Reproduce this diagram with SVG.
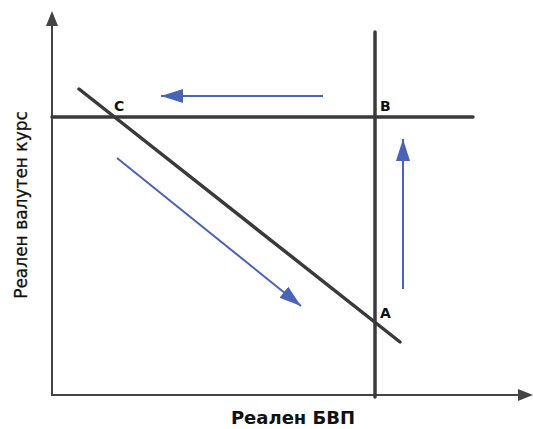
<svg xmlns="http://www.w3.org/2000/svg" width="533" height="429" viewBox="0 0 533 429">
<style>
.axis{stroke:#444;stroke-width:2;fill:none}
.curve{stroke:#3a3a3a;stroke-width:3.5;fill:none;stroke-linecap:round}
.move{stroke:#4a62b8;stroke-width:2;fill:none}
.pt{font-family:"DejaVu Sans",Verdana,sans-serif;font-weight:bold;font-size:14px;fill:#111}
.lbl{font-family:"DejaVu Sans",Verdana,sans-serif;fill:#111}
</style>
<defs>
<marker id="blue" markerWidth="24" markerHeight="16" refX="22" refY="8" orient="auto" markerUnits="userSpaceOnUse"><path d="M0,1 L22,8 L0,15 Z" fill="#4a62b8"/></marker>
</defs>
<g id="connectors">
<line class="axis" x1="52" y1="396" x2="52" y2="24"/>
<polygon points="52,11 46,26 58,26" fill="#444"/>
<line class="axis" x1="51" y1="395" x2="520" y2="395"/>
<polygon points="533,395 518,389 518,401" fill="#444"/>
<line class="move" x1="323" y1="96" x2="161" y2="96" marker-end="url(#blue)"/>
<line class="move" x1="403" y1="289" x2="403" y2="139" marker-end="url(#blue)"/>
<line class="move" x1="117" y1="158" x2="301" y2="306" marker-end="url(#blue)"/>
</g>
<g id="lr-curve"><line class="curve" x1="52" y1="117" x2="473" y2="117"/></g>
<g id="ll-curve"><line class="curve" x1="375" y1="32" x2="375" y2="397"/></g>
<g id="demand-curve"><line class="curve" x1="79" y1="89" x2="400" y2="342"/></g>
<g id="point-C"><text class="pt" x="114" y="111">C</text></g>
<g id="point-B"><text class="pt" x="380" y="111">B</text></g>
<g id="point-A"><text class="pt" x="380" y="318">A</text></g>
<g id="y-label"><text class="lbl" font-size="17" stroke="#111" stroke-width="0.3" transform="translate(27,205) rotate(-90)" text-anchor="middle">Реален валутен курс</text></g>
<g id="x-label"><text class="lbl" font-size="18" x="293" y="424" text-anchor="middle" font-weight="bold">Реален БВП</text></g>
</svg>
